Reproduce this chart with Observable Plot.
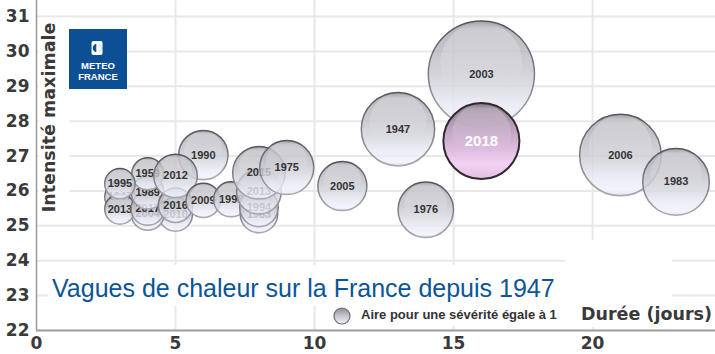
<!DOCTYPE html>
<html><head><meta charset="utf-8">
<script src="https://cdn.jsdelivr.net/npm/d3@7"></script>
<script src="https://cdn.jsdelivr.net/npm/@observablehq/plot@0.6"></script>
<style>
body{margin:0;background:#fff;}
#wrap{position:relative;width:715px;height:354px;overflow:hidden;background:#fff;}
.ov{position:absolute;background:#fff;white-space:nowrap;}
#ylab{left:-46px;top:102px;width:200px;height:31px;line-height:31px;text-align:center;transform:rotate(-90deg);font:bold 17.5px "DejaVu Sans";color:#3a3a3a;}
#title{left:48px;top:265px;width:517px;height:41px;box-sizing:border-box;padding:11px 0 0 4px;font:25px/25px "Liberation Sans",Arial;color:#0b5597;}
#leg{left:330px;top:304px;width:245px;height:22px;}
#legtxt{position:absolute;left:31px;top:3px;font:bold 13px/16px "Liberation Sans",Arial;color:#333;}
#boxr{left:565px;top:240px;width:107px;height:60px;}
#dur{left:565px;top:300px;width:150px;height:27px;box-sizing:border-box;padding:4px 0 0 16px;font:bold 17.5px/20px "DejaVu Sans";color:#3a3a3a;}
#logo{position:absolute;left:69px;top:29px;width:58px;height:60px;background:#0d4f94;color:#fff;text-align:center;font:bold 9.5px/11px "Liberation Sans",Arial;}
</style>
</head><body><div id="wrap"></div>
<script>
// Données : vagues de chaleur (année, durée en jours, intensité maximale, sévérité)
const annees = ["2010","2004","1947","2013","2017","1989","1959","1995","2016","1990","2012","2009","1998","1983","1994","2013","2015","1975","2005","1947","1976","2003","2018","2006","1983"];
const durees = [5,4,3,3,4,4,4,3,5,6,5,6,7,8,8,8,8,9,11,13,14,16,16,21,23];
const intensites = [25.33,25.35,25.83,25.48,25.49,25.95,26.49,26.21,25.59,27.03,26.43,25.73,25.76,25.34,25.53,25.98,26.52,26.67,26.14,27.77,25.46,29.35,27.43,27.03,26.26];
const severites = [4.5,4.3,3.6,3.6,4.3,4.2,4.0,3.6,4.6,9.5,7.4,4.6,4.8,5.5,5.8,7.8,10.8,11.4,9.4,21,12,44,22.6,26,17.3];
const anneeEnAvant = "2018";
const xTicks = [0,5,10,15,20];
const yTicks = [22,23,24,25,26,27,28,29,30,31];

const data = annees.map((a,i)=>({annee:a, duree:durees[i], intensite:intensites[i], severite:severites[i], hl: a===anneeEnAvant}));

const rOpts = {type:"sqrt", domain:[0,1], range:[0,8]};
const rScale = Plot.scale({r: rOpts});

const bubbleMarks = data.flatMap(d => {
  const rad = rScale.apply(d.severite);
  return [
    Plot.dot([d], {x:"duree", y:"intensite", r:"severite",
      fill: d.hl ? "url(#gRose)" : "url(#gBulle)",
      stroke: d.hl ? "#2e2a2e" : "url(#sBulle)",
      strokeWidth: d.hl ? 2 : 1.5, fillOpacity: d.hl ? 0.95 : 0.8}),
    // reflet (calotte plus claire en haut de la bulle)
    Plot.dot([d], {x:"duree", y:"intensite", r: dd => dd.severite * 0.6, dy: -rad * 0.2,
      fill:"url(#gReflet)", stroke:"none"}),
    Plot.text([d], {x:"duree", y:"intensite", text:"annee",
      fill: d.hl ? "#fff" : "#333", fontSize: d.hl ? 15 : 11, fontWeight:"bold",
      fontFamily:"Liberation Sans, Arial, sans-serif"})
  ];
});

const chart = Plot.plot({
  width:715, height:354,
  marginLeft:36, marginRight:0, marginTop:0, marginBottom:24,
  x:{domain:[0,24.42]},
  y:{domain:[22,31.46]},
  r: rOpts,
  style:{fontFamily:"DejaVu Sans, sans-serif", fontSize:"17px", fontWeight:"bold", color:"#3a3a3a", background:"#fff", overflow:"visible"},
  marks:[
    Plot.gridX(xTicks.filter(t=>t>0), {stroke:"#e8e8e8", strokeOpacity:1, strokeWidth:2}),
    Plot.gridY(yTicks, {stroke:"#e8e8e8", strokeOpacity:1, strokeWidth:2}),
    Plot.axisX(xTicks, {tickSize:0, tickPadding:6, label:null, fontSize:17, fontWeight:"bold", fill:"#3a3a3a"}),
    Plot.axisY(yTicks, {tickSize:0, tickPadding:7, label:null, fontSize:17, fontWeight:"bold", fill:"#3a3a3a"}),
    Plot.ruleX([0], {stroke:"#9a9a9a", strokeWidth:1.5}),
    Plot.ruleY([22], {stroke:"#a0a0a0", strokeWidth:2}),
    ...bubbleMarks
  ]
});

// dégradés « bulle de verre »
const defs = d3.select(chart).insert("defs", ":first-child");
function lin(id, stops){
  const g = defs.append("linearGradient").attr("id", id).attr("x1",0).attr("y1",0).attr("x2",0).attr("y2",1);
  stops.forEach(([o,c,a])=>g.append("stop").attr("offset",o).attr("stop-color",c).attr("stop-opacity", a==null?1:a));
}
lin("gBulle", [[0,"#8f8f98"],[0.1,"#a9a9b2"],[0.45,"#c4c4cc"],[0.8,"#e9e9f4"],[0.95,"#f1f1fb"],[1,"#d0d0da"]]);
lin("sBulle", [[0,"#55555c"],[0.5,"#7c7c86"],[1,"#a8a8b2"]]);
lin("gRose", [[0,"#7d6b7c"],[0.15,"#a08aa0"],[0.45,"#c9a8cb"],[0.8,"#f2cff4"],[1,"#e0bce2"]]);
lin("gReflet", [[0,"#ffffff",0.0],[0.08,"#ffffff",0.28],[0.5,"#ffffff",0.14],[0.75,"#ffffff",0.0],[1,"#ffffff",0]]);

const wrap = document.getElementById("wrap");
wrap.appendChild(chart);

const r1 = chart.scale("r").apply(1);
const ov = document.createElement("div");
ov.innerHTML = `
<div class="ov" id="ylab">Intensité maximale</div>
<div class="ov" id="title">Vagues de chaleur sur la France depuis 1947</div>
<div class="ov" id="boxr"></div>
<div class="ov" id="leg"><svg width="30" height="22" style="position:absolute;left:3px;top:0">
<defs><linearGradient id="gL" x1="0" y1="0" x2="0" y2="1"><stop offset="0" stop-color="#8f8f98"/><stop offset="0.5" stop-color="#c6c6ce"/><stop offset="1" stop-color="#f1f1fb"/></linearGradient></defs>
<circle cx="9" cy="12" r="${r1}" fill="url(#gL)" stroke="#6c6c74" stroke-width="1.2"/></svg>
<span id="legtxt">Aire pour une sévérité égale à 1</span></div>
<div class="ov" id="dur">Durée (jours)</div>
<div id="logo"><svg width="58" height="30" style="display:block"><rect x="22.5" y="12" width="11" height="14" rx="2" fill="#fff"/><circle cx="28" cy="19" r="4.3" fill="#0d4f94"/><path d="M28 14.7 A4.3 4.3 0 0 1 28 23.3 Z" fill="#fff"/><rect x="27.3" y="14" width="1.4" height="10" fill="#fff"/></svg><div style="margin-top:1px">METEO</div><div>FRANCE</div></div>`;
while (ov.firstElementChild) wrap.appendChild(ov.firstElementChild);
</script>
</body></html>
